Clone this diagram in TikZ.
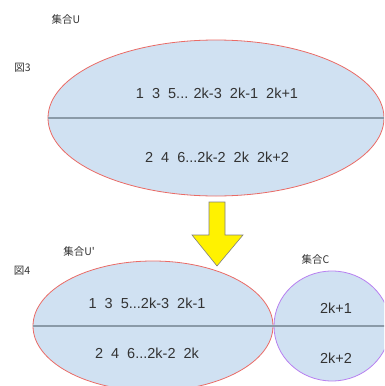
\documentclass[tikz,border=0pt]{standalone}
\usepackage{fontspec}
\setmainfont{Liberation Sans}
\newfontfamily\jp{Noto Sans CJK JP}
\usetikzlibrary{shapes.geometric}
\definecolor{setfill}{HTML}{D0E1F2}
\definecolor{setred}{HTML}{EA6B66}
\definecolor{setpurple}{HTML}{B77FF0}
\definecolor{midline}{HTML}{8A9AA8}
\definecolor{txt}{HTML}{333333}
\tikzset{
  setbox/.style={ellipse,fill=setfill,inner sep=0pt,line width=0.8pt},
  nums/.style={text=txt,font=\fontsize{14.5}{16}\selectfont},
  lbl/.style={text=txt,font=\jp\fontsize{10.5}{12}\selectfont}
}

\begin{document}
\begin{tikzpicture}[x=1pt,y=-1pt]
      \useasboundingbox (0,0) rectangle (384,386);
      \clip (0,0) rectangle (384,386);
      \node [setbox,draw=setred,minimum width=336pt,minimum height=156pt] (U) at (216,118) {};
      \draw [midline,line width=1.6pt] (U.west) -- (U.east);
      \node [setbox,draw=setred,minimum width=240pt,minimum height=130pt] (Up) at (153,326) {};
      \node [setbox,draw=setpurple,minimum width=116pt,minimum height=110pt] (C) at (332,326) {};
      \draw [midline,line width=1.6pt] (Up.west) -- (C.east);
      \draw [fill=yellow,draw=gray,line width=0.6pt] (209,202) -- (225,202) -- (225,235) -- (243,235)
            -- (217,266) -- (192,235) -- (209,235) -- cycle;
\node [lbl] (lU) at (66,20) {集合U};
\node [lbl] (f3) at (22.5,68) {図3};
\node [lbl] (lUp) at (79,252) {集合U'};
\node [lbl] (f4) at (22,271) {図4};
\node [lbl] (lC) at (315.5,260) {集合C};
\node [nums] (odd) at (217,93) {1\ \ 3\ \ 5... 2k-3\ \ 2k-1\ \ 2k+1};
\node [nums] (even) at (217,157) {2\ \ 4\ \ 6...2k-2\ \ 2k\ \ 2k+2};
\node [nums] (oddp) at (147,303) {1\ \ 3\ \ 5...2k-3\ \ 2k-1};
\node [nums] (evenp) at (147,353) {2\ \ 4\ \ 6...2k-2\ \ 2k};
\node [nums] (c1) at (336,308) {2k+1};
\node [nums] (c2) at (336,358) {2k+2};
    \end{tikzpicture}
\end{document}
